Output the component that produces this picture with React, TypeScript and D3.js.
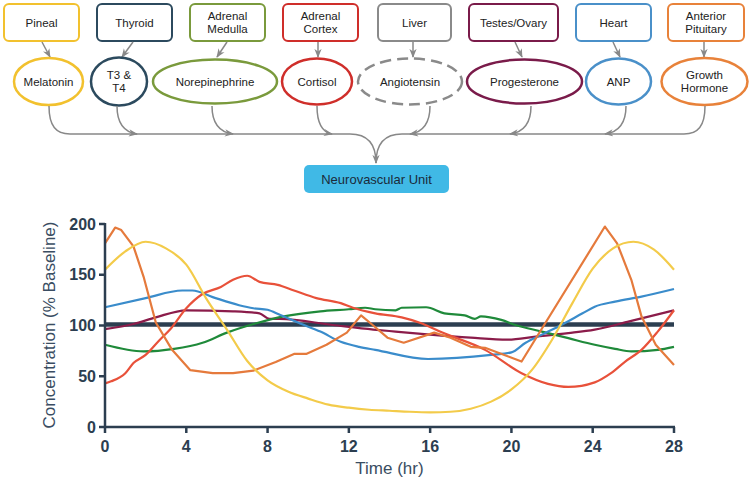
import React from "react";
import * as d3 from "d3";

// ---------- Data ----------
const xTicks = [0, 4, 8, 12, 16, 20, 24, 28];
const yTicks = [0, 50, 100, 150, 200];

const melatonin: [number, number][] = [
  [0, 155], [1, 173], [2, 182.5], [3, 176], [4, 160], [5, 126], [6, 96], [7, 65], [8, 46],
  [9, 35], [10, 28], [11, 22], [12, 19], [13, 17], [14, 16], [15, 15], [16, 14.5], [17, 15],
  [18, 18], [19, 25], [20, 37], [21, 56], [22, 86], [23, 122], [24, 156], [25, 176],
  [26, 182.5], [27, 175], [28, 155],
];
const growthHormone: [number, number][] = [
  [0, 181], [0.5, 196.5], [0.8, 194], [1.4, 178], [1.9, 148], [2.5, 103], [3.3, 76], [4.2, 56],
  [5.3, 53], [6.3, 53], [7.3, 55.5], [8.4, 64], [9.3, 72], [9.9, 72], [10.9, 81], [11.9, 93],
  [12.6, 110], [13.2, 100], [13.9, 88], [14.7, 83], [16.2, 93], [17, 88], [18, 79], [18.7, 78],
  [20.5, 64.5], [24.6, 197.5], [25.2, 181], [25.9, 145], [26.4, 109], [27.1, 81], [28, 61],
];
const cortisol: [number, number][] = [
  [0, 43], [0.3, 45], [1, 53], [1.4, 63], [2, 71], [2.7, 86], [3.2, 96], [4, 117], [4.8, 131],
  [5.7, 138], [6.3, 145], [7, 149], [7.6, 143], [8.5, 140], [9.3, 134.5], [10.4, 127],
  [11.6, 122], [12.2, 117.5], [13.3, 112], [14.6, 108], [15.6, 102], [16.6, 93], [18.7, 76],
  [20.5, 53], [21.8, 42.5], [22.8, 39.5], [24.1, 44], [24.9, 53], [25.6, 64.5], [26.4, 76],
  [27.2, 94], [28, 115],
];
const anp: [number, number][] = [
  [0, 118], [2, 127], [3.8, 134.5], [4.3, 134.5], [5.3, 128], [6.6, 120], [7.3, 117],
  [8, 115.5], [8.6, 110.5], [9.6, 102], [10.6, 94], [11.6, 84], [12.5, 79], [13.3, 76],
  [15.9, 67], [19, 71], [20, 73.5], [20.7, 83], [21.5, 91], [22.5, 101], [23.5, 112],
  [24.1, 118.5], [25.1, 123.5], [26.4, 128.5], [28, 136],
];
const norepinephrine: [number, number][] = [
  [0, 81], [1.9, 74.5], [3.4, 77], [4.8, 83], [6, 93], [7.4, 102], [8.8, 109], [10.6, 114],
  [12, 116], [12.8, 117.5], [13.3, 116], [14.3, 115], [14.6, 117.5], [15.8, 118], [16.7, 112],
  [17.7, 110], [18.2, 106.5], [18.5, 109], [19.5, 105.5], [20.2, 100.5], [21.5, 94],
  [22.8, 87.5], [24.1, 81], [25.1, 77], [25.9, 74.5], [27.2, 76], [28, 79],
];
const progesterone: [number, number][] = [
  [0, 96.5], [1.4, 101.5], [2.5, 108], [4, 115], [6.3, 114], [7.6, 112], [8.1, 106.5],
  [8.6, 106.5], [11.2, 100.5], [13.2, 96], [14.3, 94], [16, 91], [18, 88], [19.8, 86],
  [21.2, 89], [22.8, 92.5], [24.1, 96], [25.8, 104], [28, 115],
];
const thyroid: [number, number][] = [[0, 101], [28, 101]];

// ---------- Diagram layout ----------
const glands = [
  { label: ["Pineal"], x: 4, w: 75, color: "#f2c12e" },
  { label: ["Thyroid"], x: 97, w: 75, color: "#2c4a5e" },
  { label: ["Adrenal", "Medulla"], x: 190, w: 75, color: "#7a9a3c" },
  { label: ["Adrenal", "Cortex"], x: 283, w: 75, color: "#cf2e2a" },
  { label: ["Liver"], x: 378, w: 73, color: "#8a8a8a" },
  { label: ["Testes/Ovary"], x: 469, w: 89, color: "#7a1b4a" },
  { label: ["Heart"], x: 576, w: 75, color: "#4a90c9" },
  { label: ["Anterior", "Pituitary"], x: 668, w: 76, color: "#e8823a" },
];
const hormones = [
  { label: ["Melatonin"], cx: 48.5, rx: 34.5, ry: 23.5, color: "#f2c12e", dash: false },
  { label: ["T3 &", "T4"], cx: 119, rx: 28, ry: 24, color: "#2c4a5e", dash: false },
  { label: ["Norepinephrine"], cx: 215, rx: 62, ry: 22, color: "#7a9a3c", dash: false },
  { label: ["Cortisol"], cx: 317, rx: 35, ry: 23, color: "#cf2e2a", dash: false },
  { label: ["Angiotensin"], cx: 410, rx: 52, ry: 23, color: "#8a8a8a", dash: true },
  { label: ["Progesterone"], cx: 524.5, rx: 57.5, ry: 22, color: "#7a1b4a", dash: false },
  { label: ["ANP"], cx: 618.5, rx: 32.5, ry: 23, color: "#4a90c9", dash: false },
  { label: ["Growth", "Hormone"], cx: 704.5, rx: 43, ry: 23.5, color: "#e8823a", dash: false },
];
const glandArrows: [number, number, number, number][] = [
  [42, 42, 50, 57], [133, 42, 122, 57], [227, 42, 217, 57], [318, 42, 318, 57],
  [413, 42, 413, 57], [515, 42, 522, 57], [613, 42, 620, 57], [704, 42, 704, 57],
];
const mergeCurves = [
  "M117,106 C117,122 123,132 137,134",
  "M212,106 C212,122 218,132 233,134",
  "M317,106 C317,122 321,132 332,134",
  "M430,106 C430,122 424,132 410,134",
  "M531,106 C531,122 525,132 510,134",
  "M626,106 C626,122 620,132 605,134",
];

const W = 750;
const H = 483;
const AX = "#2c3e50";
const FONT = "'Liberation Sans', Arial, Helvetica, sans-serif";

export default function App() {
  const x = d3.scaleLinear().domain([0, 28]).range([105, 674]);
  const y = d3.scaleLinear().domain([0, 200]).range([427, 224]);
  const smooth = d3
    .line<[number, number]>()
    .x((d) => x(d[0]))
    .y((d) => y(d[1]))
    .curve(d3.curveMonotoneX);
  const straight = d3
    .line<[number, number]>()
    .x((d) => x(d[0]))
    .y((d) => y(d[1]));

  const series = [
    { d: straight(thyroid), color: "#2c3e50", w: 4.5 },
    { d: smooth(progesterone), color: "#8b1c4a", w: 2.2 },
    { d: smooth(norepinephrine), color: "#1f8a3a", w: 2.2 },
    { d: smooth(anp), color: "#3a8ccb", w: 2.2 },
    { d: smooth(cortisol), color: "#e8513a", w: 2.2 },
    { d: straight(growthHormone), color: "#e57a3c", w: 2.2 },
    { d: smooth(melatonin), color: "#f3cb4a", w: 2.2 },
  ];

  return (
    <svg
      width={W}
      height={H}
      style={{ position: "absolute", left: 0, top: 0, background: "#fff" }}
      fontFamily={FONT}
    >
      <defs>
        <marker
          id="arr"
          viewBox="0 0 10 8"
          refX="9"
          refY="4"
          markerWidth="9"
          markerHeight="8"
          markerUnits="userSpaceOnUse"
          orient="auto"
        >
          <path d="M0,0 L10,4 L0,8 L3,4 Z" fill="#888" />
        </marker>
      </defs>

      {/* Gland boxes */}
      {glands.map((g, i) => (
        <g key={"g" + i}>
          <rect x={g.x} y={4} width={g.w} height={37} rx={5} fill="#fff" stroke={g.color} strokeWidth={2} />
          {g.label.map((t, j) => (
            <text
              key={j}
              x={g.x + g.w / 2}
              y={g.label.length === 1 ? 27 : 20 + j * 13}
              textAnchor="middle"
              fontSize={11.5}
              fill="#222"
            >
              {t}
            </text>
          ))}
        </g>
      ))}

      {/* Gland -> hormone arrows */}
      {glandArrows.map((a, i) => (
        <line key={"a" + i} x1={a[0]} y1={a[1]} x2={a[2]} y2={a[3]} stroke="#888" strokeWidth={1.5} markerEnd="url(#arr)" />
      ))}

      {/* Hormone ellipses */}
      {hormones.map((h, i) => (
        <g key={"h" + i}>
          <ellipse
            cx={h.cx}
            cy={81.5}
            rx={h.rx}
            ry={h.ry}
            fill="#fff"
            stroke={h.color}
            strokeWidth={2.5}
            strokeDasharray={h.dash ? "11 6" : undefined}
          />
          {h.label.map((t, j) => (
            <text
              key={j}
              x={h.cx}
              y={h.label.length === 1 ? 86 : 79 + j * 13}
              textAnchor="middle"
              fontSize={11.5}
              fill="#222"
            >
              {t}
            </text>
          ))}
        </g>
      ))}

      {/* Bus lines */}
      <path d="M49,106 C49,126 56,134 70,134 L350,134 C366,134 376,142 376,163" fill="none" stroke="#888" strokeWidth={1.5} markerEnd="url(#arr)" />
      <path d="M705,106 C705,126 698,134 684,134 L402,134 C386,134 376,142 376,163" fill="none" stroke="#888" strokeWidth={1.5} />
      {mergeCurves.map((p, i) => (
        <path key={"m" + i} d={p} fill="none" stroke="#888" strokeWidth={1.5} markerEnd="url(#arr)" />
      ))}

      {/* Neurovascular unit */}
      <rect x={304} y={165} width={145} height={28} rx={5} fill="#40b9e6" />
      <text x={376.5} y={184} textAnchor="middle" fontSize={13} fill="#1b2b3a">
        Neurovascular Unit
      </text>

      {/* Chart lines */}
      {series.map((s, i) => (
        <path key={"s" + i} d={s.d || ""} fill="none" stroke={s.color} strokeWidth={s.w} strokeLinejoin="round" />
      ))}

      {/* Axes */}
      <line x1={105} y1={y(200) - 1} x2={105} y2={427} stroke={AX} strokeWidth={2.5} />
      <line x1={104} y1={427} x2={675} y2={427} stroke={AX} strokeWidth={2.5} />
      {yTicks.map((t) => (
        <g key={"yt" + t}>
          <line x1={99} x2={105} y1={y(t)} y2={y(t)} stroke={AX} strokeWidth={2.5} />
          <text x={96} y={y(t) + 5.5} textAnchor="end" fontSize={16} fontWeight="bold" fill={AX}>
            {t}
          </text>
        </g>
      ))}
      {xTicks.map((t) => (
        <g key={"xt" + t}>
          <line x1={x(t)} x2={x(t)} y1={427} y2={433} stroke={AX} strokeWidth={2.5} />
          <text x={x(t)} y={452} textAnchor="middle" fontSize={16} fontWeight="bold" fill={AX}>
            {t}
          </text>
        </g>
      ))}
      <text x={389.5} y={474} textAnchor="middle" fontSize={17} fill="#3a4d62">
        Time (hr)
      </text>
      <text transform="translate(55,325) rotate(-90)" textAnchor="middle" fontSize={17} fill="#3a4d62">
        Concentration (% Baseline)
      </text>
    </svg>
  );
}
